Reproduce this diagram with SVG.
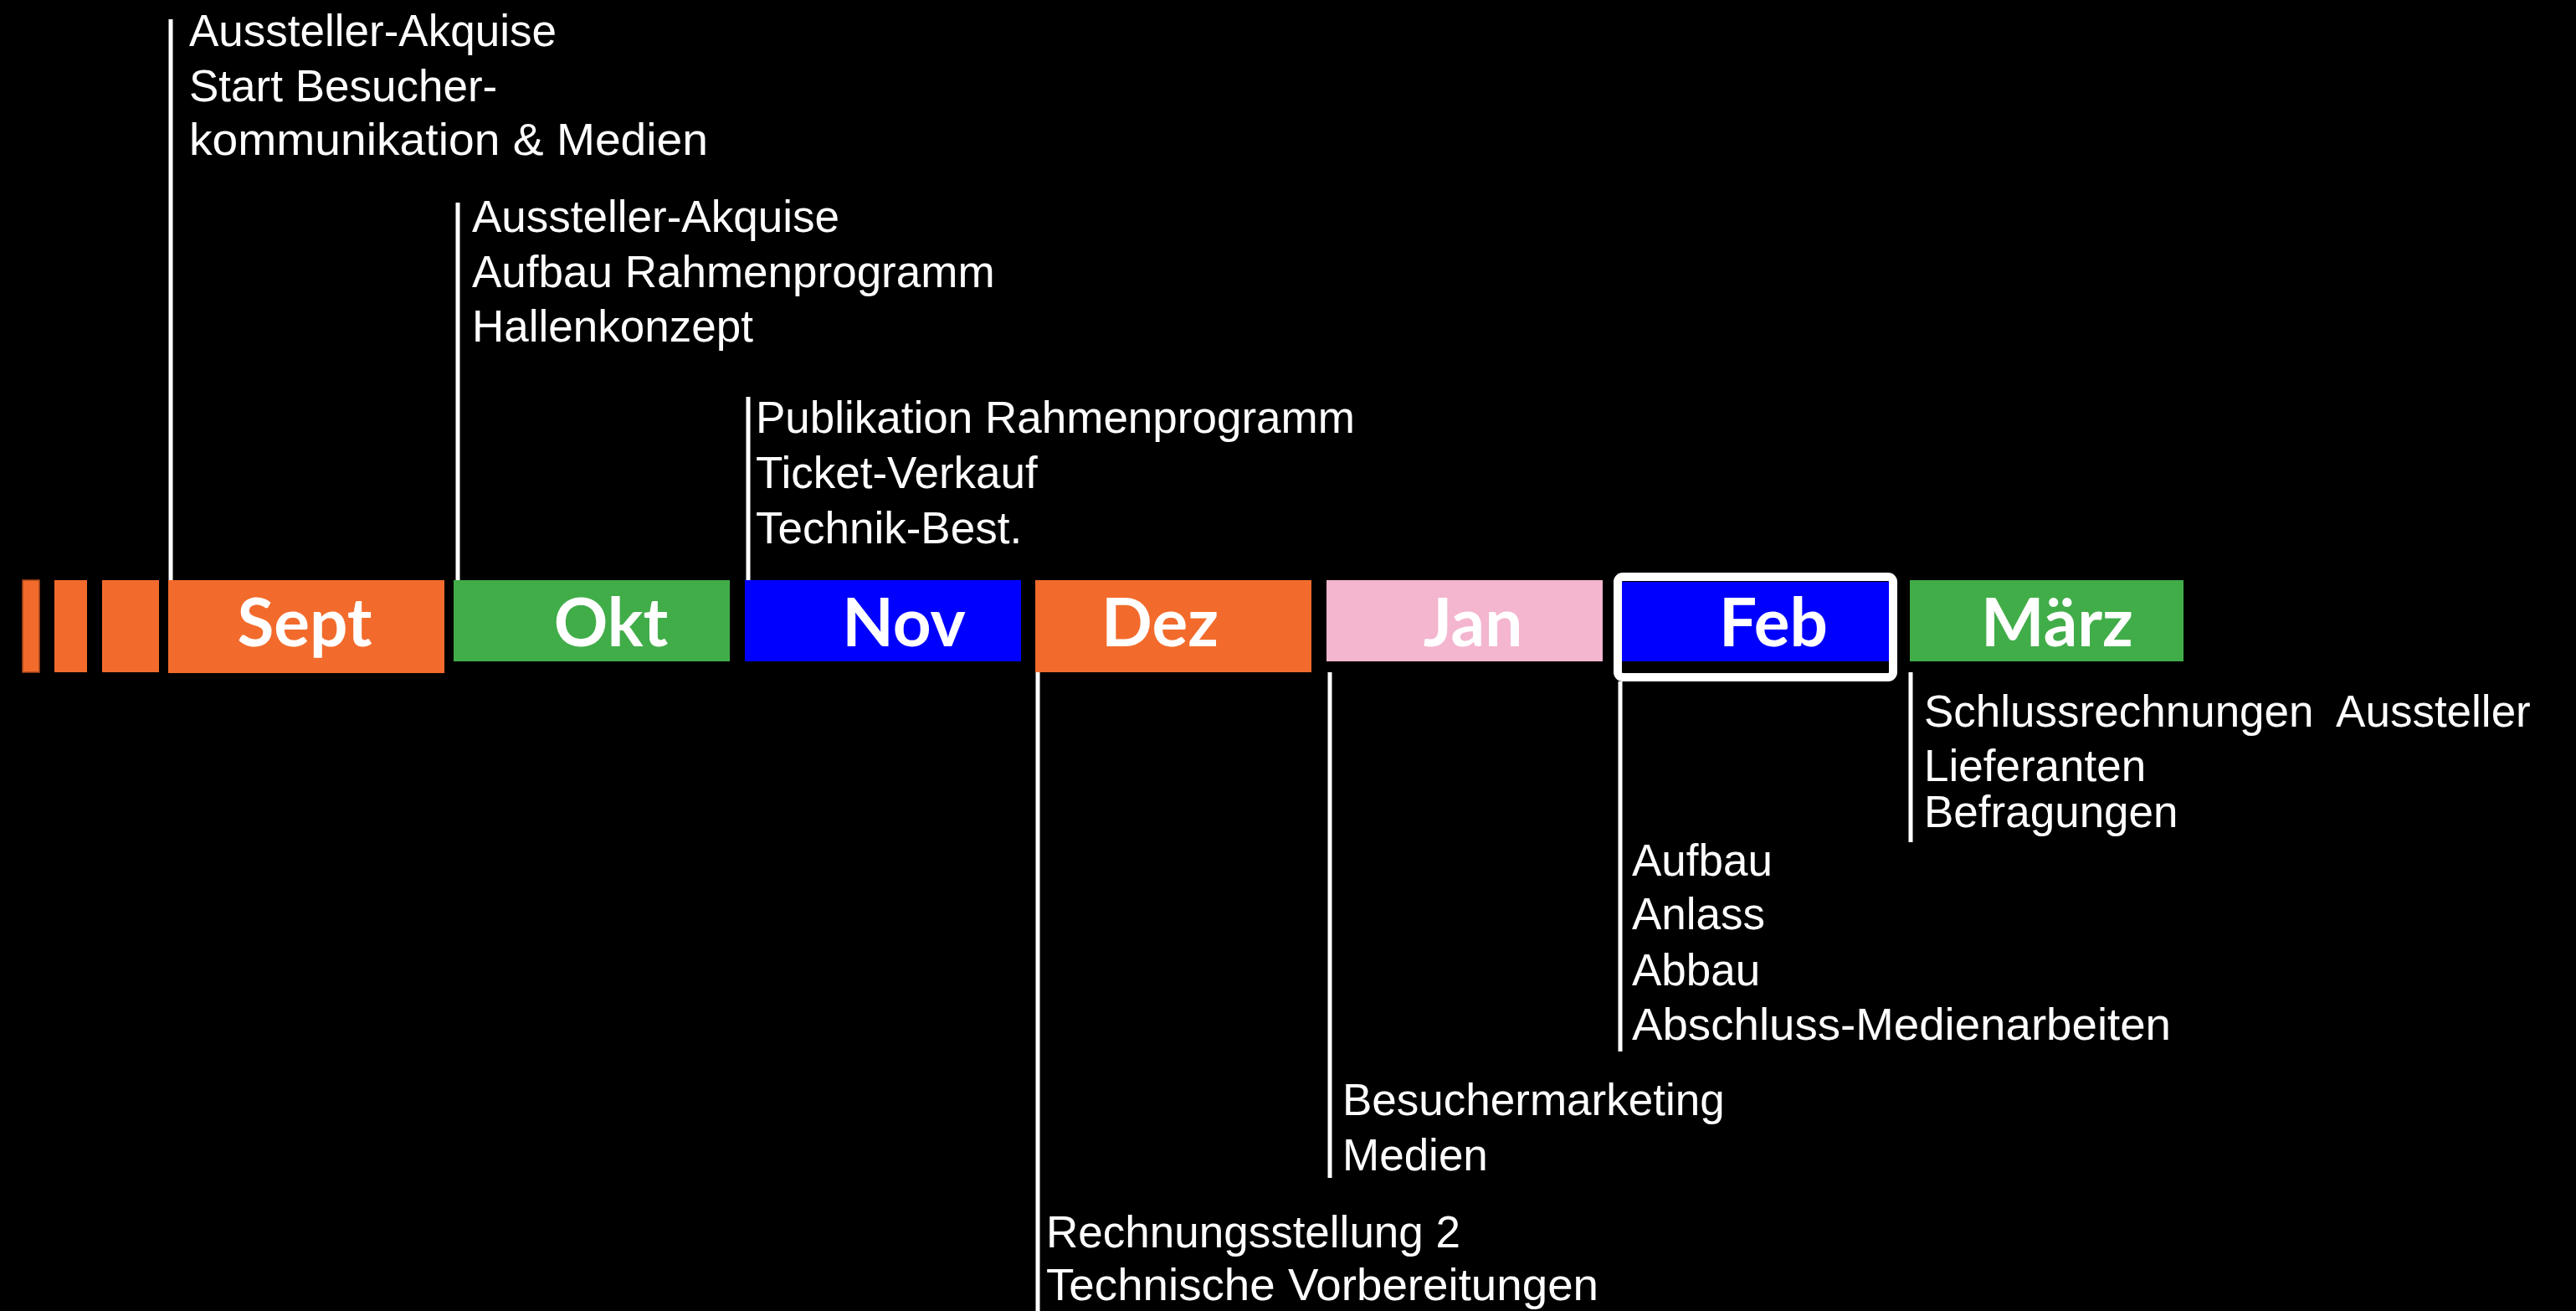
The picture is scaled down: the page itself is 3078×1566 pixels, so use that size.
<svg xmlns="http://www.w3.org/2000/svg" width="3078" height="1566" viewBox="0 0 3078 1566">
  <style>
    .orange { fill: #F26B2C; }
    .green { fill: #41AD49; }
    .blue { fill: #0000FF; }
    .pink { fill: #F4B5CF; }
    .month { font-family: Lato, "Open Sans", "Liberation Sans", sans-serif; font-weight: 700; font-size: 80px; fill: #FFFFFF; text-anchor: middle; }
    .task { font-family: "Liberation Sans", Arial, sans-serif; font-size: 53px; fill: #FFFFFF; white-space: pre; }
    .conn { stroke: #FFFFFF; stroke-width: 5; fill: none; }
  </style>
  <rect x="0" y="0" width="3078" height="1566" fill="#000000"/>

  <g id="connectors">
    <line class="conn" x1="204" y1="23" x2="204" y2="693"/>
    <line class="conn" x1="547" y1="242" x2="547" y2="693"/>
    <line class="conn" x1="894" y1="474" x2="894" y2="693"/>
    <line class="conn" x1="1240" y1="803" x2="1240" y2="1566"/>
    <line class="conn" x1="1589" y1="803" x2="1589" y2="1407"/>
    <line class="conn" x1="1936" y1="814" x2="1936" y2="1256"/>
    <line class="conn" x1="2283" y1="803" x2="2283" y2="1006"/>
  </g>

  <g id="lead-bars">
    <rect class="orange" x="27" y="693" width="20" height="110" stroke="#A8471C" stroke-width="1.5"/>
    <rect class="orange" x="65" y="693" width="39" height="110"/>
    <rect class="orange" x="122" y="693" width="68" height="110"/>
  </g>

  <g id="month-sept">
    <rect class="orange" x="201" y="693" width="330" height="111"/>
    <text class="month" x="364" y="772">Sept</text>
  </g>
  <g id="month-okt">
    <rect class="green" x="542" y="693" width="330" height="97"/>
    <text class="month" x="730" y="772">Okt</text>
  </g>
  <g id="month-nov">
    <rect class="blue" x="890" y="693" width="330" height="97"/>
    <text class="month" x="1080" y="772">Nov</text>
  </g>
  <g id="month-dez">
    <rect class="orange" x="1237" y="693" width="330" height="110"/>
    <text class="month" x="1386" y="772">Dez</text>
  </g>
  <g id="month-jan">
    <rect class="pink" x="1585" y="693" width="330" height="97"/>
    <text class="month" x="1760" y="772">Jan</text>
  </g>
  <g id="month-feb">
    <rect x="1933" y="689" width="329" height="120" rx="6" fill="#000000" stroke="#FFFFFF" stroke-width="10"/>
    <rect class="blue" x="1938" y="695" width="319" height="95"/>
    <text class="month" x="2119" y="772">Feb</text>
  </g>
  <g id="month-maerz">
    <rect class="green" x="2282" y="693" width="327" height="97"/>
    <text class="month" x="2458" y="772">März</text>
  </g>

  <g id="tasks-sept">
    <text class="task" x="226" y="55">Aussteller-Akquise</text>
    <text class="task" x="226" y="121">Start Besucher-</text>
    <text class="task" x="226" y="185" textLength="620" lengthAdjust="spacingAndGlyphs">kommunikation &amp; Medien</text>
  </g>
  <g id="tasks-okt">
    <text class="task" x="564" y="277">Aussteller-Akquise</text>
    <text class="task" x="564" y="343">Aufbau Rahmenprogramm</text>
    <text class="task" x="564" y="408">Hallenkonzept</text>
  </g>
  <g id="tasks-nov">
    <text class="task" x="903" y="517">Publikation Rahmenprogramm</text>
    <text class="task" x="903" y="583">Ticket-Verkauf</text>
    <text class="task" x="903" y="649">Technik-Best.</text>
  </g>
  <g id="tasks-dez">
    <text class="task" x="1250" y="1490">Rechnungsstellung 2</text>
    <text class="task" x="1250" y="1553" textLength="660" lengthAdjust="spacingAndGlyphs">Technische Vorbereitungen</text>
  </g>
  <g id="tasks-jan">
    <text class="task" x="1604" y="1332">Besuchermarketing</text>
    <text class="task" x="1604" y="1398">Medien</text>
  </g>
  <g id="tasks-feb">
    <text class="task" x="1950" y="1046">Aufbau</text>
    <text class="task" x="1950" y="1110">Anlass</text>
    <text class="task" x="1950" y="1177">Abbau</text>
    <text class="task" x="1950" y="1242" textLength="644" lengthAdjust="spacingAndGlyphs">Abschluss-Medienarbeiten</text>
  </g>
  <g id="tasks-maerz">
    <text class="task" x="2299" y="868">Schlussrechnungen  Aussteller</text>
    <text class="task" x="2299" y="933">Lieferanten</text>
    <text class="task" x="2299" y="988">Befragungen</text>
  </g>
</svg>
